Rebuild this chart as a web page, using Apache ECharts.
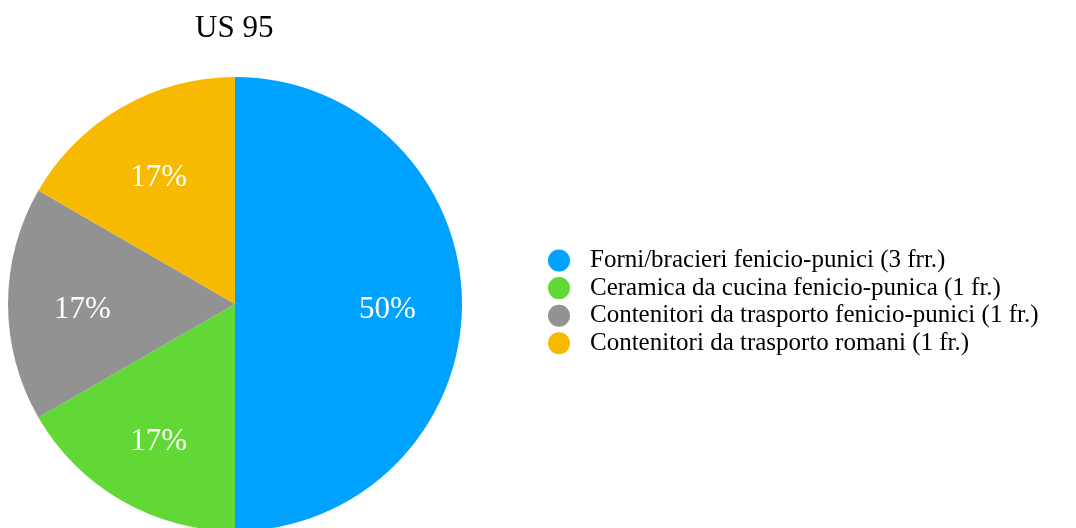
<!DOCTYPE html>
<html>
<head>
<meta charset="utf-8">
<script src="https://cdn.jsdelivr.net/npm/echarts@6/dist/echarts.min.js"></script>
<style>
  html, body { margin: 0; padding: 0; background: #fff; }
  #chart { width: 1076px; height: 528px; }
</style>
</head>
<body>
<div id="chart"></div>
<script>
// Fragment counts per class for US 95
const categories = [
  'Forni/bracieri fenicio-punici (3 frr.)',
  'Ceramica da cucina fenicio-punica (1 fr.)',
  'Contenitori da trasporto fenicio-punici (1 fr.)',
  'Contenitori da trasporto romani (1 fr.)'
];
const counts = [3, 1, 1, 1];
const colors = ['#00A2FF', '#61D836', '#929292', '#F8BA00'];
const chartTitle = 'US 95';

const FONT = '"Liberation Serif", "Times New Roman", serif';
const pieData = categories.map((name, i) => ({ name, value: counts[i] }));

const chart = echarts.init(document.getElementById('chart'), null, { renderer: 'canvas' });
chart.setOption({
  backgroundColor: '#ffffff',
  color: colors,
  animation: false,
  title: {
    text: chartTitle,
    left: 195,
    top: 13,
    padding: 0,
    textStyle: { fontFamily: FONT, fontSize: 31, fontWeight: 'normal', color: '#000' }
  },
  legend: {
    orient: 'vertical',
    left: 543,
    top: 243,
    icon: 'circle',
    itemWidth: 22,
    itemHeight: 22,
    itemGap: 2.6,
    selectedMode: false,
    data: categories,
    textStyle: {
      fontFamily: FONT,
      fontSize: 25,
      lineHeight: 22,
      color: '#000',
      padding: [0, 0, 0, 15]
    }
  },
  series: [
    {
      // the slices
      type: 'pie',
      center: [235, 304],
      radius: [0, 227],
      startAngle: 90,
      clockwise: true,
      silent: true,
      label: { show: false },
      labelLine: { show: false },
      itemStyle: { borderWidth: 0 },
      data: pieData
    },
    {
      // percentage labels, placed two thirds of the way out
      type: 'pie',
      center: [235, 304],
      radius: [72, 227],
      startAngle: 90,
      clockwise: true,
      silent: true,
      legendHoverLink: false,
      itemStyle: { color: 'rgba(0,0,0,0)', borderWidth: 0 },
      label: {
        show: true,
        position: 'inside',
        formatter: p => Math.round(p.percent) + '%',
        offset: [0, 6],
        fontFamily: FONT,
        fontSize: 31,
        color: '#fff'
      },
      labelLine: { show: false },
      data: pieData
    }
  ]
});
</script>
</body>
</html>
